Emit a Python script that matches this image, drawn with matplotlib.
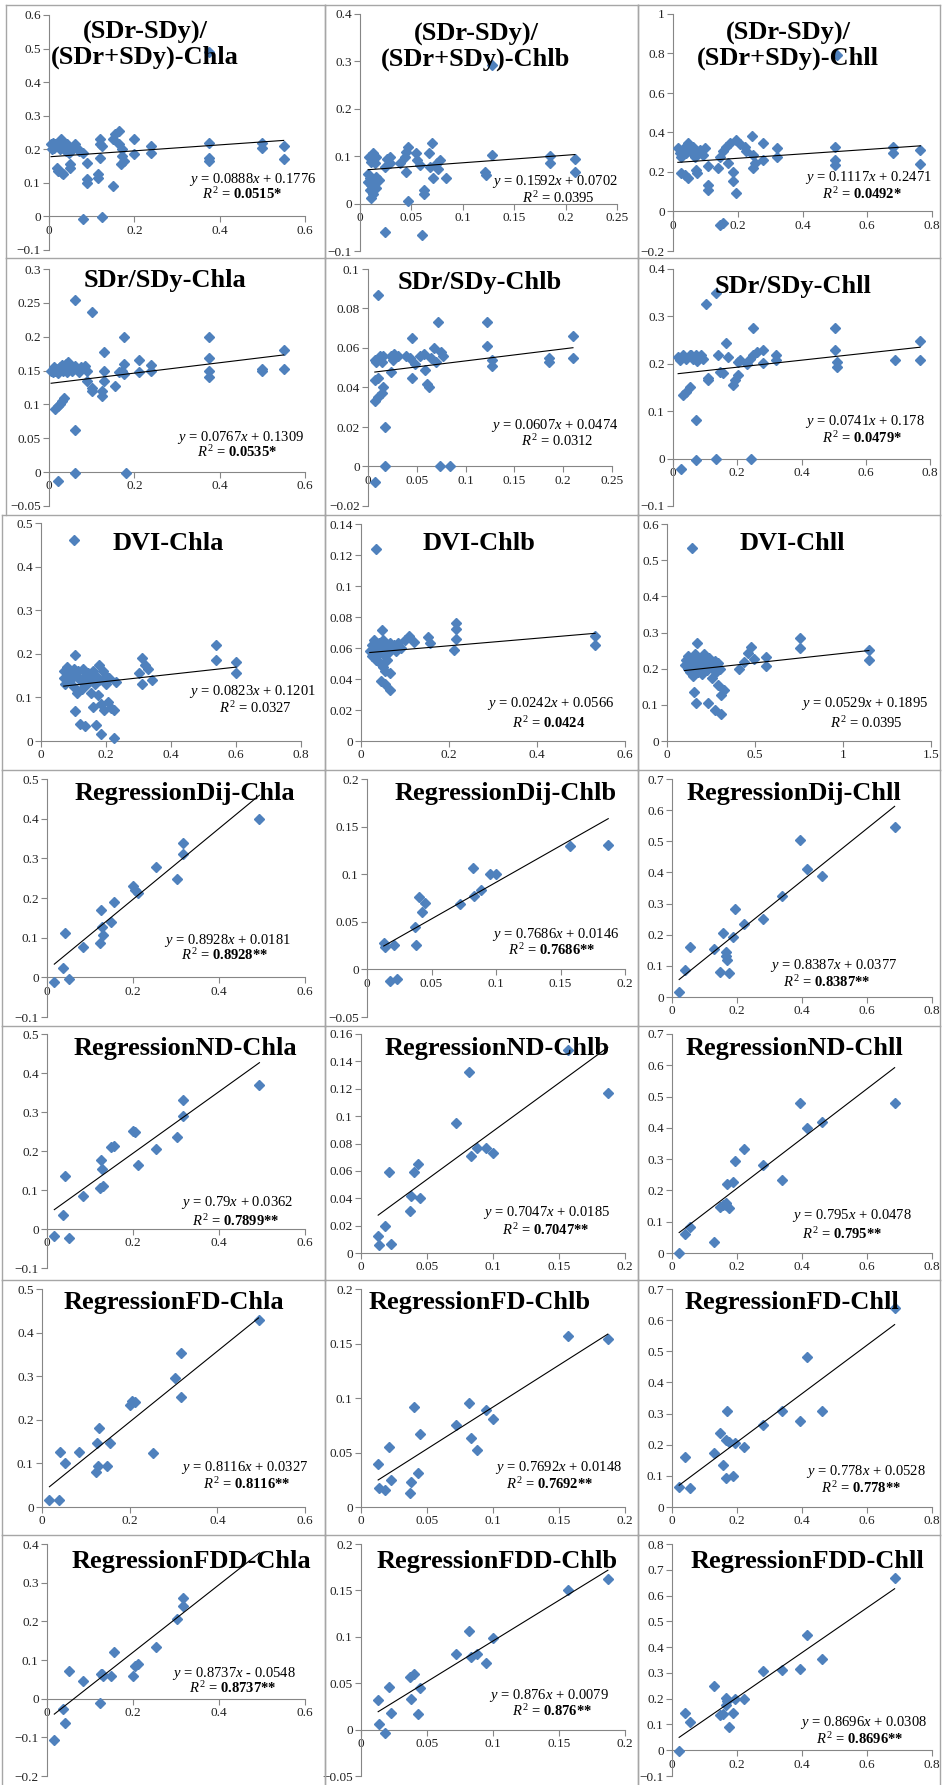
import numpy as np
import matplotlib.pyplot as plt
from matplotlib.ticker import MultipleLocator, FuncFormatter
from matplotlib.lines import Line2D
from matplotlib.transforms import Bbox, TransformedBbox

plt.rcParams['font.family'] = ['Liberation Serif', 'DejaVu Serif']
plt.rcParams['mathtext.fontset'] = 'custom'
plt.rcParams['mathtext.rm'] = 'Liberation Serif'
plt.rcParams['mathtext.it'] = 'Liberation Serif:italic'
plt.rcParams['mathtext.bf'] = 'Liberation Serif:bold'

W, H = 943, 1785
blue = '#4F81BD'
axis_grey = '#868686'

# ---------------- data ----------------
titles = ['(SDr-SDy)/\n(SDr+SDy)-Chla', '(SDr-SDy)/\n(SDr+SDy)-Chlb', '(SDr-SDy)/\n(SDr+SDy)-Chll',
          'SDr/SDy-Chla', 'SDr/SDy-Chlb', 'SDr/SDy-Chll',
          'DVI-Chla', 'DVI-Chlb', 'DVI-Chll',
          'RegressionDij-Chla', 'RegressionDij-Chlb', 'RegressionDij-Chll',
          'RegressionND-Chla', 'RegressionND-Chlb', 'RegressionND-Chll',
          'RegressionFD-Chla', 'RegressionFD-Chlb', 'RegressionFD-Chll',
          'RegressionFDD-Chla', 'RegressionFDD-Chlb', 'RegressionFDD-Chll']
slopes = [0.0888, 0.1592, 0.1117, 0.0767, 0.0607, 0.0741, 0.0823, 0.0242, 0.0529,
          0.8928, 0.7686, 0.8387, 0.79, 0.7047, 0.795, 0.8116, 0.7692, 0.778,
          0.8737, 0.876, 0.8696]
intercepts = [0.1776, 0.0702, 0.2471, 0.1309, 0.0474, 0.178, 0.1201, 0.0566, 0.1895,
              0.0181, 0.0146, 0.0377, 0.0362, 0.0185, 0.0478, 0.0327, 0.0148, 0.0528,
              -0.0548, 0.0079, 0.0308]
r2 = [0.0515, 0.0395, 0.0492, 0.0535, 0.0312, 0.0479, 0.0327, 0.0424, 0.0395,
      0.8928, 0.7686, 0.8387, 0.7899, 0.7047, 0.795, 0.8116, 0.7692, 0.778,
      0.8737, 0.876, 0.8696]
stars = ['*', '', '*', '*', '', '*', '', '', '',
         '**', '**', '**', '**', '**', '**', '**', '**', '**', '**', '**', '**']
r2_bold = [True, False, True, True, False, True, False, True, False] + [True] * 12

a1 = [(0.005, 0.215), (0.008, 0.2), (0.01, 0.22), (0.012, 0.205), (0.015, 0.215), (0.018, 0.145),
      (0.02, 0.135), (0.02, 0.21), (0.025, 0.2), (0.028, 0.23), (0.03, 0.215), (0.03, 0.13),
      (0.033, 0.125), (0.035, 0.2), (0.038, 0.21), (0.04, 0.195), (0.042, 0.215), (0.045, 0.205),
      (0.048, 0.19), (0.05, 0.155), (0.05, 0.145), (0.055, 0.2), (0.06, 0.215), (0.065, 0.205),
      (0.07, 0.195), (0.08, 0.19), (0.08, -0.008), (0.09, 0.16), (0.09, 0.11), (0.09, 0.1),
      (0.12, 0.23), (0.12, 0.215), (0.12, 0.175), (0.115, 0.125), (0.115, 0.115), (0.125, 0.21),
      (0.125, -0.003), (0.15, 0.23), (0.15, 0.09), (0.155, 0.245), (0.165, 0.255), (0.165, 0.215),
      (0.17, 0.2), (0.17, 0.18), (0.168, 0.155), (0.175, 0.165), (0.2, 0.23), (0.2, 0.185),
      (0.24, 0.21), (0.24, 0.19), (0.375, 0.49), (0.375, 0.22), (0.375, 0.175), (0.375, 0.165),
      (0.5, 0.22), (0.5, 0.205), (0.55, 0.21), (0.55, 0.17)]
b1 = [(0.009, 0.099), (0.013, 0.106), (0.016, 0.099), (0.011, 0.088), (0.015, 0.085), (0.008, 0.063),
      (0.01, 0.053), (0.008, 0.046), (0.011, 0.039), (0.015, 0.046), (0.016, 0.056), (0.018, 0.049),
      (0.01, 0.028), (0.011, 0.011), (0.013, 0.021), (0.016, 0.032), (0.026, 0.095), (0.029, 0.085),
      (0.029, 0.099), (0.024, 0.077), (0.039, 0.085), (0.044, 0.099), (0.047, 0.12), (0.045, 0.109),
      (0.045, 0.067), (0.047, 0.006), (0.054, 0.106), (0.055, 0.092), (0.058, 0.081), (0.062, 0.028),
      (0.062, 0.021), (0.067, 0.106), (0.07, 0.127), (0.068, 0.077), (0.071, 0.053), (0.075, 0.085),
      (0.078, 0.092), (0.076, 0.074), (0.084, 0.053), (0.122, 0.067), (0.123, 0.06), (0.128, 0.102),
      (0.185, 0.1), (0.185, 0.086), (0.209, 0.095), (0.209, 0.067), (0.024, -0.06), (0.06, -0.067),
      (0.128, 0.292)]
c1 = [(0.015, 0.32), (0.021, 0.295), (0.026, 0.278), (0.036, 0.329), (0.041, 0.295), (0.046, 0.346),
      (0.052, 0.304), (0.062, 0.329), (0.072, 0.295), (0.083, 0.312), (0.093, 0.287), (0.098, 0.32),
      (0.067, 0.278), (0.026, 0.194), (0.036, 0.185), (0.046, 0.168), (0.072, 0.211), (0.075, 0.194),
      (0.108, 0.228), (0.108, 0.135), (0.108, 0.11), (0.139, 0.22), (0.144, 0.278), (0.155, 0.304),
      (0.165, 0.329), (0.175, 0.346), (0.17, 0.245), (0.186, 0.202), (0.186, 0.152), (0.196, 0.093),
      (0.196, 0.363), (0.206, 0.34), (0.222, 0.329), (0.227, 0.304), (0.243, 0.38), (0.248, 0.287),
      (0.248, 0.22), (0.253, 0.245), (0.279, 0.346), (0.279, 0.262), (0.32, 0.32), (0.32, 0.278),
      (0.5, 0.329), (0.5, 0.262), (0.5, 0.236), (0.681, 0.329), (0.681, 0.295), (0.764, 0.312),
      (0.764, 0.24), (0.144, -0.067), (0.155, -0.06), (0.506, 0.79)]
a2 = [(0.005, 0.15), (0.01, 0.148), (0.012, 0.155), (0.015, 0.15), (0.02, 0.153), (0.022, 0.147),
      (0.025, 0.155), (0.03, 0.158), (0.032, 0.15), (0.035, 0.155), (0.04, 0.16), (0.042, 0.148),
      (0.045, 0.162), (0.05, 0.155), (0.055, 0.15), (0.06, 0.157), (0.065, 0.152), (0.07, 0.148),
      (0.075, 0.155), (0.085, 0.157), (0.09, 0.15), (0.015, 0.093), (0.02, 0.098), (0.025, 0.1),
      (0.03, 0.105), (0.035, 0.11), (0.02, -0.013), (0.06, 0.062), (0.06, -0.002), (0.06, 0.254),
      (0.09, 0.134), (0.1, 0.237), (0.1, 0.124), (0.1, 0.12), (0.13, 0.178), (0.13, 0.15),
      (0.13, 0.134), (0.125, 0.12), (0.125, 0.113), (0.155, 0.127), (0.165, 0.148), (0.17, 0.15),
      (0.175, 0.2), (0.175, 0.16), (0.175, 0.145), (0.18, -0.002), (0.21, 0.165), (0.21, 0.148),
      (0.24, 0.158), (0.24, 0.15), (0.375, 0.2), (0.375, 0.168), (0.375, 0.15), (0.375, 0.14),
      (0.5, 0.152), (0.5, 0.15), (0.55, 0.18), (0.55, 0.152)]
b2 = [(0.01, 0.087), (0.007, 0.054), (0.007, 0.044), (0.01, 0.045), (0.007, 0.033), (0.01, 0.035),
      (0.014, 0.037), (0.015, 0.04), (0.017, 0.02), (0.017, 0.0), (0.007, -0.008), (0.0086, 0.053),
      (0.012, 0.056), (0.014, 0.053), (0.015, 0.056), (0.024, 0.056), (0.026, 0.054), (0.027, 0.057),
      (0.031, 0.056), (0.024, 0.048), (0.039, 0.056), (0.043, 0.055), (0.045, 0.065), (0.045, 0.045),
      (0.048, 0.052), (0.053, 0.056), (0.057, 0.057), (0.058, 0.049), (0.06, 0.042), (0.062, 0.04),
      (0.065, 0.055), (0.068, 0.06), (0.07, 0.053), (0.072, 0.073), (0.075, 0.058), (0.077, 0.056),
      (0.074, 0.0), (0.084, 0.0), (0.122, 0.073), (0.122, 0.061), (0.127, 0.054), (0.127, 0.051),
      (0.185, 0.055), (0.185, 0.053), (0.21, 0.066), (0.21, 0.055)]
c2 = [(0.021, 0.207), (0.026, -0.021), (0.031, 0.134), (0.042, 0.141), (0.052, 0.151), (0.057, 0.218),
      (0.073, 0.218), (0.073, 0.081), (0.073, -0.004), (0.104, 0.327), (0.109, 0.169), (0.135, 0.349),
      (0.135, -0.001), (0.14, 0.218), (0.146, 0.183), (0.156, 0.18), (0.166, 0.243), (0.172, 0.215),
      (0.187, 0.155), (0.192, 0.165), (0.203, 0.176), (0.203, 0.204), (0.244, -0.001), (0.25, 0.218),
      (0.25, 0.275), (0.26, 0.225), (0.281, 0.201), (0.281, 0.229), (0.322, 0.218), (0.322, 0.208),
      (0.504, 0.275), (0.504, 0.229), (0.509, 0.204), (0.509, 0.194), (0.691, 0.208), (0.769, 0.248),
      (0.769, 0.208), (0.016, 0.215), (0.031, 0.218), (0.042, 0.211), (0.052, 0.218), (0.062, 0.211),
      (0.078, 0.215), (0.088, 0.218), (0.094, 0.211), (0.229, 0.2), (0.239, 0.211), (0.208, 0.208),
      (0.11, 0.165), (0.075, 0.205)]
a3 = [(0.07, 0.16), (0.07, 0.145), (0.075, 0.13), (0.08, 0.17), (0.085, 0.15), (0.09, 0.14),
      (0.095, 0.155), (0.1, 0.165), (0.1, 0.125), (0.105, 0.198), (0.105, 0.068), (0.11, 0.15),
      (0.11, 0.11), (0.115, 0.16), (0.12, 0.14), (0.12, 0.038), (0.125, 0.12), (0.13, 0.165),
      (0.135, 0.15), (0.135, 0.035), (0.14, 0.13), (0.145, 0.155), (0.15, 0.145), (0.155, 0.11),
      (0.16, 0.16), (0.16, 0.078), (0.165, 0.13), (0.17, 0.15), (0.17, 0.036), (0.175, 0.105),
      (0.18, 0.175), (0.18, 0.14), (0.185, 0.085), (0.185, 0.015), (0.19, 0.16), (0.195, 0.07),
      (0.2, 0.15), (0.2, 0.13), (0.205, 0.09), (0.21, 0.145), (0.215, 0.075), (0.225, 0.07),
      (0.225, 0.008), (0.23, 0.135), (0.3, 0.155), (0.31, 0.19), (0.31, 0.13), (0.32, 0.175),
      (0.33, 0.165), (0.34, 0.14), (0.54, 0.22), (0.54, 0.186), (0.6, 0.182), (0.6, 0.155),
      (0.1, 0.46)]
b3 = [(0.02, 0.058), (0.025, 0.062), (0.025, 0.055), (0.03, 0.065), (0.03, 0.058), (0.035, 0.052),
      (0.035, 0.06), (0.04, 0.063), (0.04, 0.056), (0.045, 0.06), (0.045, 0.05), (0.05, 0.065),
      (0.05, 0.057), (0.05, 0.048), (0.055, 0.062), (0.055, 0.055), (0.06, 0.06), (0.06, 0.052),
      (0.065, 0.058), (0.065, 0.063), (0.07, 0.06), (0.075, 0.062), (0.08, 0.058), (0.085, 0.063),
      (0.09, 0.06), (0.1, 0.065), (0.048, 0.0716), (0.045, 0.039), (0.055, 0.037), (0.065, 0.033),
      (0.065, 0.044), (0.055, 0.045), (0.109, 0.068), (0.12, 0.064), (0.153, 0.067), (0.157, 0.063),
      (0.211, 0.059), (0.215, 0.066), (0.215, 0.072), (0.215, 0.076), (0.532, 0.068), (0.532, 0.062),
      (0.034, 0.1237)]
c3 = [(0.1, 0.21), (0.11, 0.225), (0.12, 0.2), (0.12, 0.235), (0.13, 0.215), (0.13, 0.19),
      (0.14, 0.225), (0.14, 0.205), (0.15, 0.22), (0.15, 0.18), (0.16, 0.24), (0.16, 0.2),
      (0.17, 0.27), (0.17, 0.21), (0.175, 0.19), (0.18, 0.225), (0.19, 0.2), (0.2, 0.215),
      (0.2, 0.185), (0.21, 0.24), (0.21, 0.205), (0.22, 0.22), (0.23, 0.195), (0.24, 0.23),
      (0.25, 0.21), (0.26, 0.2), (0.27, 0.22), (0.28, 0.19), (0.29, 0.215), (0.3, 0.2),
      (0.154, 0.136), (0.164, 0.104), (0.233, 0.104), (0.274, 0.086), (0.308, 0.076), (0.325, 0.141),
      (0.29, 0.155), (0.257, 0.173), (0.308, 0.127), (0.41, 0.2), (0.438, 0.219), (0.462, 0.242),
      (0.48, 0.26), (0.497, 0.228), (0.565, 0.233), (0.565, 0.206), (0.753, 0.284), (0.753, 0.256),
      (1.147, 0.252), (1.147, 0.224), (0.144, 0.533)]

# regression rows share the measured values on x
reg_x_chla = [0.017, 0.038, 0.042, 0.052, 0.084, 0.124, 0.126, 0.128, 0.131, 0.149, 0.156,
              0.2, 0.205, 0.212, 0.254, 0.303, 0.317, 0.317, 0.494]
dij_chla = [-0.011, 0.023, 0.113, -0.003, 0.077, 0.087, 0.17, 0.128, 0.107, 0.14, 0.19,
            0.229, 0.22, 0.212, 0.279, 0.247, 0.311, 0.338, 0.398]
nd_chla = [-0.017, 0.037, 0.136, -0.024, 0.084, 0.105, 0.178, 0.153, 0.109, 0.21, 0.214,
           0.252, 0.25, 0.165, 0.206, 0.235, 0.29, 0.332, 0.37]
fd_chla = [0.015, 0.015, 0.126, 0.102, 0.126, 0.081, 0.147, 0.093, 0.181, 0.093, 0.147,
           0.234, 0.242, 0.24, 0.125, 0.296, 0.253, 0.353, 0.429]
fdd_chla = [-0.108, -0.027, -0.062, 0.072, 0.046, -0.011, 0.065, 0.063, 0.059, 0.059, 0.12,
            0.059, 0.085, 0.09, 0.134, 0.206, 0.239, 0.26, 0.44]

reg_x_chlb = [0.013, 0.014, 0.018, 0.021, 0.023, 0.037, 0.038, 0.040, 0.043, 0.045, 0.072,
              0.082, 0.083, 0.088, 0.095, 0.100, 0.157, 0.187]
dij_chlb = [0.028, 0.024, -0.012, 0.026, -0.0105, 0.045, 0.026, 0.076, 0.06, 0.07, 0.069,
            0.106, 0.077, 0.083, 0.1, 0.1, 0.13, 0.131]
nd_chlb = [0.0126, 0.0056, 0.02, 0.059, 0.0066, 0.031, 0.042, 0.059, 0.065, 0.04, 0.095,
           0.132, 0.071, 0.077, 0.077, 0.073, 0.148, 0.117]
fd_chlb = [0.039, 0.0174, 0.0153, 0.055, 0.025, 0.013, 0.0226, 0.0916, 0.031, 0.067, 0.075,
           0.095, 0.063, 0.052, 0.0886, 0.081, 0.157, 0.154]
fdd_chlb = [0.032, 0.006, -0.0035, 0.046, 0.018, 0.057, 0.033, 0.06, 0.0165, 0.045, 0.082,
            0.106, 0.078, 0.082, 0.0715, 0.0985, 0.15, 0.162]

reg_x_chll = [0.022, 0.041, 0.054, 0.13, 0.148, 0.157, 0.165, 0.165, 0.17, 0.174, 0.189,
              0.193, 0.22, 0.281, 0.337, 0.393, 0.415, 0.463, 0.685]
dij_chll = [0.015, 0.088, 0.16, 0.154, 0.08, 0.205, 0.132, 0.146, 0.12, 0.077, 0.194,
            0.282, 0.235, 0.25, 0.325, 0.504, 0.411, 0.39, 0.547]
nd_chll = [0.0, 0.062, 0.083, 0.034, 0.147, 0.155, 0.152, 0.16, 0.22, 0.145, 0.228,
           0.295, 0.333, 0.282, 0.234, 0.479, 0.399, 0.42, 0.479]
fd_chll = [0.064, 0.162, 0.061, 0.173, 0.237, 0.136, 0.093, 0.216, 0.307, 0.21, 0.098,
           0.207, 0.192, 0.264, 0.307, 0.275, 0.481, 0.307, 0.64]
fdd_chll = [-0.004, 0.146, 0.111, 0.248, 0.136, 0.14, 0.175, 0.204, 0.19, 0.089, 0.144,
            0.197, 0.197, 0.308, 0.312, 0.315, 0.448, 0.353, 0.669]

series = [tuple(zip(*p)) for p in (a1, b1, c1, a2, b2, c2, a3, b3, c3)]
for ys_a, ys_b, ys_c in [(dij_chla, dij_chlb, dij_chll), (nd_chla, nd_chlb, nd_chll),
                         (fd_chla, fd_chlb, fd_chll), (fdd_chla, fdd_chlb, fdd_chll)]:
    series += [(reg_x_chla, ys_a), (reg_x_chlb, ys_b), (reg_x_chll, ys_c)]

# ---------------- layout (pixels) ----------------
boxes = [(49, 305, 15, 250), (360, 617, 14, 251), (673, 932, 14, 251),
         (49, 305, 269, 506), (368, 612, 269, 506), (673, 930, 269, 506),
         (41, 301, 523, 741), (361, 625, 524, 741), (667, 931, 524, 741),
         (47, 305, 779, 1017), (367, 625, 779, 1017), (672, 932, 779, 997),
         (47, 305, 1034, 1268), (361, 625, 1034, 1253), (672, 932, 1034, 1253),
         (42, 305, 1289, 1507), (361, 625, 1289, 1507), (672, 932, 1289, 1507),
         (47, 305, 1544, 1776), (361, 625, 1544, 1776), (672, 932, 1544, 1776)]
xlims = [(0, 0.6, 0.2), (0, 0.25, 0.05), (0, 0.8, 0.2),
         (0, 0.6, 0.2), (0, 0.25, 0.05), (0, 0.8, 0.2),
         (0, 0.8, 0.2), (0, 0.6, 0.2), (0, 1.5, 0.5)] + [(0, 0.6, 0.2), (0, 0.2, 0.05), (0, 0.8, 0.2)] * 4
ylims = [(-0.1, 0.6, 0.1), (-0.1, 0.4, 0.1), (-0.2, 1.0, 0.2),
         (-0.05, 0.3, 0.05), (-0.02, 0.1, 0.02), (-0.1, 0.4, 0.1),
         (0, 0.5, 0.1), (0, 0.14, 0.02), (0, 0.6, 0.1),
         (-0.1, 0.5, 0.1), (-0.05, 0.2, 0.05), (0, 0.7, 0.1),
         (-0.1, 0.5, 0.1), (0, 0.16, 0.02), (0, 0.7, 0.1),
         (0, 0.5, 0.1), (0, 0.2, 0.05), (0, 0.7, 0.1),
         (-0.2, 0.4, 0.1), (-0.05, 0.2, 0.05), (-0.1, 0.8, 0.1)]
title_xy = [(145, 45), (476, 47), (788, 46), (165, 280), (480, 282), (793, 287),
            (168, 543), (479, 543), (792, 543), (185, 793), (506, 793), (794, 793),
            (185, 1048), (497, 1048), (794, 1048), (174, 1303), (480, 1303), (792, 1303),
            (191, 1561), (497, 1561), (807, 1561)]
eq_xy = [(253, 180), (555, 182), (868, 178), (241, 438), (555, 425), (865, 421),
         (252, 691), (551, 704), (865, 704), (227, 940), (556, 934), (834, 965),
         (237, 1202), (547, 1212), (852, 1215), (245, 1468), (559, 1467), (866, 1471),
         (234, 1673), (549, 1695), (864, 1722)]
r2_xy = [(242, 194), (558, 198), (862, 194), (237, 452), (557, 441), (862, 438),
         (255, 708), (549, 723), (866, 723), (225, 955), (552, 950), (827, 982),
         (236, 1221), (546, 1230), (842, 1234), (247, 1484), (550, 1484), (861, 1488),
         (233, 1688), (552, 1711), (860, 1739)]
col_edges = [325, 638, 940]
row_edges = [5, 258, 515, 770, 1026, 1280, 1535, 1785]


def fx(x):
    return x / W


def fy(y):
    return 1 - y / H


def tick_fmt(v, pos):
    s = '%g' % round(v, 4)
    return s.replace('-', '\u2212')


fig = plt.figure(figsize=(W / 100, H / 100), dpi=100)

# grey chart borders
for r in range(7):
    left = 6 if r < 2 else 2
    t, b = row_edges[r], row_edges[r + 1]
    for l, rr in zip([left] + col_edges[:2], col_edges):
        for seg in [([l, rr], [t, t]), ([l, l], [t, b]), ([rr, rr], [t, b])]:
            fig.add_artist(Line2D([fx(v) for v in seg[0]], [fy(v) for v in seg[1]],
                                  color='#A6A6A6', lw=1.0))

for i in range(21):
    l, r, t, b = boxes[i]
    ax = fig.add_axes([fx(l), fy(b), (r - l) / W, (b - t) / H])
    ax.patch.set_alpha(0)
    xs, ys = series[i]
    pts, = ax.plot(xs, ys, ls='none', marker='D', ms=5.2, color=blue, mec=blue, zorder=3)
    pts.set_clip_box(TransformedBbox(Bbox([[-0.04, -0.04], [1.04, 1.03]]), ax.transAxes))
    x0, x1 = min(xs), max(xs)
    ax.plot([x0, x1], [slopes[i] * x0 + intercepts[i], slopes[i] * x1 + intercepts[i]],
            color='black', lw=0.8, zorder=4)
    xmin, xmax, xstep = xlims[i]
    ymin, ymax, ystep = ylims[i]
    ax.set_xlim(xmin, xmax)
    ax.set_ylim(ymin, ymax)
    ax.xaxis.set_major_locator(MultipleLocator(xstep))
    ax.yaxis.set_major_locator(MultipleLocator(ystep))
    ax.xaxis.set_major_formatter(FuncFormatter(tick_fmt))
    ax.yaxis.set_major_formatter(FuncFormatter(tick_fmt))
    for s in ['top', 'right']:
        ax.spines[s].set_visible(False)
    ax.spines['bottom'].set_position(('data', 0))
    for s in ['left', 'bottom']:
        ax.spines[s].set_color(axis_grey)
        ax.spines[s].set_linewidth(0.8)
    ax.tick_params(direction='out', length=4, width=0.8, color=axis_grey,
                   labelsize=9.5, labelcolor='#222222', pad=2)

    # title
    tx, ty = title_xy[i]
    fig.text(fx(tx), fy(ty), titles[i], ha='center', va='center', fontsize=19,
             fontweight='bold', linespacing=1.1, zorder=10)

    # trend line label
    sign = '+' if intercepts[i] >= 0 else '-'
    eq = '$y$ = %gx %s %g' % (slopes[i], sign, abs(intercepts[i]))
    eq = eq.replace('x ', '$x$ ')
    ex, ey = eq_xy[i]
    fig.text(fx(ex), fy(ey), eq, ha='center', va='center', fontsize=10.5, zorder=10)
    rx, ry = r2_xy[i]
    fig.text(fx(rx), fy(ry), '$R^2$ = %g%s' % (r2[i], stars[i]), ha='center', va='center',
             fontsize=10.5, fontweight='bold' if r2_bold[i] else 'normal', zorder=10)

fig.savefig('out.png', dpi=100)
